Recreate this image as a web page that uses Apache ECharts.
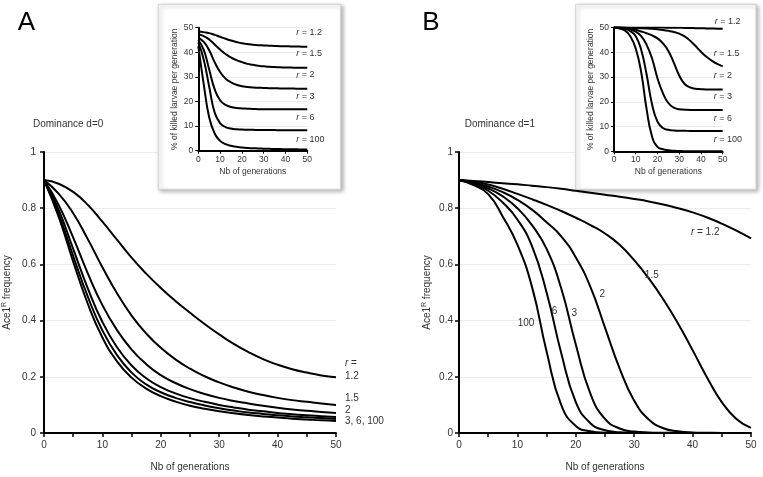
<!DOCTYPE html>
<html><head><meta charset="utf-8">
<script src="https://cdn.jsdelivr.net/npm/echarts@6/dist/echarts.min.js"></script>
<style>html,body{margin:0;padding:0;background:#fff}#c{width:763px;height:477px}</style>
</head><body><div id="c"></div>
<script>
// Generations sampled every 2.5
const generations = [0,2.5,5,7.5,10,12.5,15,17.5,20,22.5,25,27.5,30,32.5,35,37.5,40,42.5,45,47.5,50];
// Panel A (dominance d=0): Ace1R frequency
const A_r12  = [.9,.887,.858,.812,.752,.688,.624,.567,.516,.47,.428,.388,.351,.317,.288,.263,.243,.227,.215,.205,.198];
const A_r15  = [.9,.852,.782,.69,.59,.497,.418,.354,.303,.262,.229,.202,.18,.162,.147,.135,.125,.117,.111,.105,.1];
const A_r2   = [.9,.812,.695,.568,.455,.366,.297,.245,.206,.178,.156,.139,.125,.114,.105,.097,.09,.084,.079,.075,.071];
const A_r3   = [.9,.795,.655,.515,.395,.305,.24,.195,.163,.141,.124,.111,.1,.091,.083,.077,.071,.067,.063,.06,.057];
const A_r6   = [.9,.78,.63,.485,.365,.277,.215,.173,.145,.125,.11,.098,.088,.08,.073,.068,.063,.059,.056,.053,.05];
const A_r100 = [.9,.77,.61,.46,.34,.255,.197,.158,.131,.112,.097,.086,.077,.07,.064,.059,.055,.051,.048,.045,.043];
// Panel B (dominance d=1)
const B_r12  = [.9,.897,.893,.889,.885,.88,.875,.869,.862,.855,.848,.841,.833,.824,.813,.8,.785,.767,.745,.72,.693];
const B_r15  = [.9,.894,.884,.869,.851,.832,.812,.79,.766,.74,.71,.67,.615,.55,.475,.39,.295,.197,.11,.05,.018];
const B_r2   = [.9,.891,.877,.857,.83,.795,.75,.7,.625,.52,.375,.23,.115,.048,.017,.006,.002,.001,0,0,0];
const B_r3   = [.9,.888,.87,.842,.8,.74,.655,.515,.315,.14,.05,.016,.005,.002,.001,0,0,0,0,0,0];
const B_r6   = [.9,.886,.862,.82,.76,.665,.5,.285,.11,.035,.01,.003,.001,0,0,0,0,0,0,0,0];
const B_r100 = [.9,.882,.85,.77,.67,.52,.29,.1,.025,.006,.001,0,0,0,0,0,0,0,0,0,0];
// Inset A: % of killed larvae per generation (d=0)
const IA_r12  = [48.5,48.2,47.8,47.1,46.3,45.5,44.8,44.2,43.7,43.4,43.1,42.9,42.8,42.7,42.6,42.5,42.5,42.4,42.4,42.3,42.3];
const IA_r15  = [47.3,46.6,45.2,43.2,41.1,39.3,37.9,36.8,36,35.3,34.9,34.5,34.3,34.1,34,33.9,33.8,33.8,33.7,33.7,33.7];
const IA_r2   = [46,44.2,40.8,36,32,29.3,27.8,26.8,26.2,25.9,25.7,25.6,25.5,25.4,25.4,25.3,25.3,25.3,25.2,25.2,25.2];
const IA_r3   = [45,41,33,25,20.5,18.6,17.8,17.4,17.2,17.1,17,16.9,16.9,16.9,16.8,16.8,16.8,16.8,16.8,16.8,16.8];
const IA_r6   = [44,37,26,15.5,11.2,9.6,9,8.7,8.6,8.5,8.5,8.4,8.4,8.4,8.4,8.3,8.3,8.3,8.3,8.3,8.3];
const IA_r100 = [42.5,27,13.5,7,4,2.7,2,1.6,1.3,1.1,1,0.9,0.8,0.75,0.7,0.65,0.6,0.57,0.55,0.52,0.5];
// Inset B (d=1)
const IB_r12  = [50,50,50,50,50,50,50,50,49.98,49.96,49.93,49.9,49.87,49.83,49.78,49.73,49.68,49.62,49.57,49.52,49.5];
const IB_r15  = [50,49.98,49.95,49.9,49.82,49.72,49.6,49.45,49.25,49,48.65,48.2,47.5,46.4,44.7,42.5,40.2,38.2,36.6,35.3,34.3];
const IB_r2   = [50,49.97,49.9,49.6,49.1,48.4,47.7,46.8,45.6,43.6,40.5,35.8,30.6,27.2,25.8,25.3,25.1,25,25,25,25];
const IB_r3   = [50,49.95,49.7,49.2,48.3,46.5,43,37.5,29.5,23.5,19.5,17.6,17,16.8,16.7,16.7,16.7,16.7,16.7,16.7,16.7];
const IB_r6   = [50,49.9,49.5,48.5,46.5,41,31,19,12,9.4,8.7,8.4,8.3,8.3,8.2,8.2,8.2,8.2,8.2,8.2,8.2];
const IB_r100 = [50,49.6,48.8,46.5,41.5,32,17,6,1.8,0.8,0.4,0.2,0.1,0.05,0.05,0.05,0.05,0.05,0.05,0.05,0.05];

const FF = '"Liberation Sans", Arial, sans-serif';
const TXT = '#333';
const rich = {
  i: {fontStyle:'italic', fontFamily:FF, color:TXT},
  n: {fontFamily:FF, color:TXT}
};

function pairs(vals){ return generations.map((g,i)=>[g, vals[i]]); }

function line(grid, vals, z, extra){
  return Object.assign({
    type:'line', xAxisIndex:grid, yAxisIndex:grid, data:pairs(vals),
    smooth:0.5, symbol:'none', showSymbol:false, silent:true,
    lineStyle:{color:'#000', width:2}, z:z, animation:false
  }, extra||{});
}
function endLbl(text, dx, dy, size){
  return {endLabel:{show:true, formatter:text, distance:0, offset:[dx,dy], align:'left', verticalAlign:'middle',
    fontSize:size, fontFamily:FF, color:TXT, lineHeight:13,
    rich:{i:Object.assign({fontSize:size},rich.i), n:Object.assign({fontSize:size, lineHeight:13},rich.n)}}};
}
function midLbl(vals, idx, text, dx, dy){
  return {markPoint:{symbol:'circle', symbolSize:0, silent:true, animation:false,
    label:{show:true, position:'inside', formatter:text, offset:[dx,dy], fontSize:10, fontFamily:FF, color:TXT,
      rich:{i:Object.assign({fontSize:10},rich.i)}},
    data:[{coord:[generations[idx], vals[idx]]}]}};
}

function mainX(grid){
  return {gridIndex:grid, type:'value', min:0, max:50, interval:5, z:0,
    axisLine:{show:true, onZero:false, lineStyle:{color:'#000', width:2}},
    axisTick:{show:true, length:4, lineStyle:{color:'#000', width:1.5}},
    axisLabel:{formatter:v=>v%10===0?String(v):'', margin:7, fontSize:10, color:TXT, fontFamily:FF},
    splitLine:{show:false},
    name:'Nb of generations', nameLocation:'middle', nameGap:29,
    nameTextStyle:{fontSize:10, color:TXT, fontFamily:FF}};
}
function mainY(grid, gap, margin){
  return {gridIndex:grid, type:'value', min:0, max:1, interval:0.2, z:0,
    axisLine:{show:true, lineStyle:{color:'#000', width:2}},
    axisTick:{show:true, length:4, lineStyle:{color:'#000', width:1.5}},
    axisLabel:{margin:margin, fontSize:10, color:TXT, fontFamily:FF},
    splitLine:{show:true, lineStyle:{color:'#ececec', width:1}},
    name:'Ace1{sup|R} frequency', nameLocation:'middle', nameGap:gap,
    nameTextStyle:{fontSize:10, color:TXT, fontFamily:FF,
      rich:{sup:{fontSize:7, fontFamily:FF, color:TXT, verticalAlign:'top', padding:[0,0,5,0]}}}};
}
function insetX(grid){
  return {gridIndex:grid, type:'value', min:0, max:50, interval:10, z:6,
    axisLine:{show:true, onZero:false, lineStyle:{color:'#000', width:2}},
    axisTick:{show:true, length:3, lineStyle:{color:'#000', width:1}},
    axisLabel:{margin:4, fontSize:8.5, color:TXT, fontFamily:FF},
    splitLine:{show:false},
    name:'Nb of generations', nameLocation:'middle', nameGap:16,
    nameTextStyle:{fontSize:8.5, color:TXT, fontFamily:FF}};
}
function insetY(grid){
  return {gridIndex:grid, type:'value', min:0, max:50, interval:10, z:6,
    axisLine:{show:true, lineStyle:{color:'#000', width:2}},
    axisTick:{show:true, length:3, lineStyle:{color:'#000', width:1}},
    axisLabel:{margin:5, fontSize:8.5, color:TXT, fontFamily:FF},
    splitLine:{show:true, lineStyle:{color:'#ececec', width:1}},
    name:'% of killed larvae per generation', nameLocation:'middle', nameGap:19,
    nameTextStyle:{fontSize:8.5, color:TXT, fontFamily:FF}};
}

const chart = echarts.init(document.getElementById('c'), null, {renderer:'canvas'});
const option = {
  animation:false,
  backgroundColor:'#fff',
  textStyle:{fontFamily:FF},
  grid:[
    {left:44, top:152, width:292, height:282.5},
    {left:459, top:152, width:292, height:282.5},
    {left:198.3, top:27.7, width:109, height:123},
    {left:614, top:27.5, width:108.7, height:123.8}
  ],
  xAxis:[mainX(0), mainX(1), insetX(2), insetX(3)],
  yAxis:[mainY(0,31,8), mainY(1,26,6), insetY(2), insetY(3)],
  graphic:{elements:[
    {type:'rect', z:5, shape:{x:158.3, y:4.3, width:182.4, height:185}, style:{fill:'#fff', stroke:'#d2d2d2', lineWidth:1, shadowBlur:4, shadowOffsetX:2, shadowOffsetY:2, shadowColor:'rgba(0,0,0,0.3)'}},
    {type:'rect', z:5, shape:{x:575.7, y:4.3, width:180.3, height:185}, style:{fill:'#fff', stroke:'#d2d2d2', lineWidth:1, shadowBlur:4, shadowOffsetX:2, shadowOffsetY:2, shadowColor:'rgba(0,0,0,0.3)'}},
    {type:'text', z:5, x:26.5, y:23, style:{text:'A', font:'26px '+FF, fill:'#000', textAlign:'center', textVerticalAlign:'middle', align:'center', verticalAlign:'middle'}},
    {type:'text', z:5, x:431, y:23, style:{text:'B', font:'26px '+FF, fill:'#000', textAlign:'center', textVerticalAlign:'middle', align:'center', verticalAlign:'middle'}},
    {type:'text', z:5, x:33, y:124, style:{text:'Dominance d=0', font:'10px '+FF, fill:TXT, textAlign:'left', textVerticalAlign:'middle', align:'left', verticalAlign:'middle'}},
    {type:'text', z:5, x:464.7, y:124, style:{text:'Dominance d=1', font:'10px '+FF, fill:TXT, textAlign:'left', textVerticalAlign:'middle', align:'left', verticalAlign:'middle'}}
  ]},
  series:[
    // main A
    line(0, A_r12, 2, endLbl('{i|r} =\n{n|1.2}', 9, -7.5, 10)),
    line(0, A_r15, 2, endLbl('1.5', 9, -7, 10)),
    line(0, A_r2, 2, endLbl('2', 9, -2.7, 10)),
    line(0, A_r3, 2),
    line(0, A_r6, 2),
    line(0, A_r100, 2, endLbl('3, 6, 100', 9, 0, 10)),
    // main B
    line(1, B_r12, 2, midLbl(B_r12, 17, '{i|r} = 1.2', -2, 15)),
    line(1, B_r15, 2, midLbl(B_r15, 13, '1.5', 3, -3)),
    line(1, B_r2, 2, midLbl(B_r2, 9, '2', 12, 7)),
    line(1, B_r3, 2, midLbl(B_r3, 7, '3', 13, 25)),
    line(1, B_r6, 2, midLbl(B_r6, 6, '6', 8, 19)),
    line(1, B_r100, 2, midLbl(B_r100, 5, '100', -6, 36)),
    // inset A
    line(2, IA_r12, 7, endLbl('{i|r} = 1.2', -11, -14.5, 9)),
    line(2, IA_r15, 7, endLbl('{i|r} = 1.5', -11, -13.8, 9)),
    line(2, IA_r2, 7, endLbl('{i|r} = 2', -11, -13.7, 9)),
    line(2, IA_r3, 7, endLbl('{i|r} = 3', -11, -12.4, 9)),
    line(2, IA_r6, 7, endLbl('{i|r} = 6', -11, -12.3, 9)),
    line(2, IA_r100, 7, endLbl('{i|r} = 100', -11, -9.5, 9)),
    // inset B
    line(3, IB_r12, 7, endLbl('{i|r} = 1.2', -8, -7, 9)),
    line(3, IB_r15, 7, endLbl('{i|r} = 1.5', -9, -13, 9)),
    line(3, IB_r2, 7, endLbl('{i|r} = 2', -9, -14, 9)),
    line(3, IB_r3, 7, endLbl('{i|r} = 3', -9, -13.3, 9)),
    line(3, IB_r6, 7, endLbl('{i|r} = 6', -9, -12.7, 9)),
    line(3, IB_r100, 7, endLbl('{i|r} = 100', -9, -11.2, 9))
  ]
};
chart.setOption(option);
</script>
</body></html>
